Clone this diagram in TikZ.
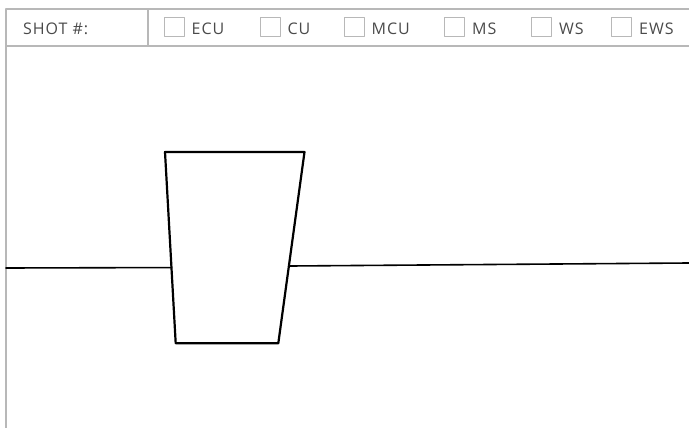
\documentclass[tikz,border=0pt]{standalone}
\usepackage{fontspec}
\usetikzlibrary{calc}
\newfontfamily\hdrfont{Open Sans}[LetterSpace=6]
\definecolor{framegray}{HTML}{B8B8B8}
\definecolor{labelgray}{HTML}{4A4A4A}

\begin{document}
\begin{tikzpicture}[x=1pt,y=-1pt,line join=round,line cap=round,
		rule/.style={draw=framegray,line width=1.2pt},
		tickbox/.style={draw=framegray,line width=1pt,minimum width=20pt,minimum height=19pt,inner sep=0pt,anchor=north west},
		lbl/.style={text=labelgray,font=\hdrfont\fontsize{16}{18}\selectfont,anchor=base west,inner sep=0pt},
		prop/.style={draw=black,line width=2.2pt,line cap=butt},
		horizon/.style={draw=black,line width=1.6pt}]
	\useasboundingbox (0,0) rectangle (689,428);
	% header strip
	\draw[rule] (6,428)--(6,9)--(689,9);
	\draw[rule] (6,46)--(689,46);
	\draw[rule] (148,9)--(148,46);
	\node[lbl] (shot) at (23,34.5) {SHOT \#:};
	\foreach \x/\t/\n in {163.5/ECU/ecu,259.5/CU/cu,343.5/MCU/mcu,444/MS/ms,531/WS/ws,611/EWS/ews}{
		\node[tickbox] (box-\n) at (\x,17.5) {};
		\node[lbl] (lbl-\n) at (\x+28,34.5) {\t};
	}
	% the glass
	\coordinate (tl) at (165,152);
	\coordinate (tr) at (304.5,152);
	\coordinate (br) at (278.3,343.3);
	\coordinate (bl) at (175.7,343.3);
	\draw[prop] (tl)--(tr)--(br)--(bl)--cycle;
	% horizon
	\coordinate (hl) at (6,268);
	\coordinate (hr) at (689,263);
	\draw[horizon] (hl)--($(tl)!0.604!(bl)$);
	\draw[horizon] ($(tr)!0.596!(br)$)--(hr);
\end{tikzpicture}
\end{document}
